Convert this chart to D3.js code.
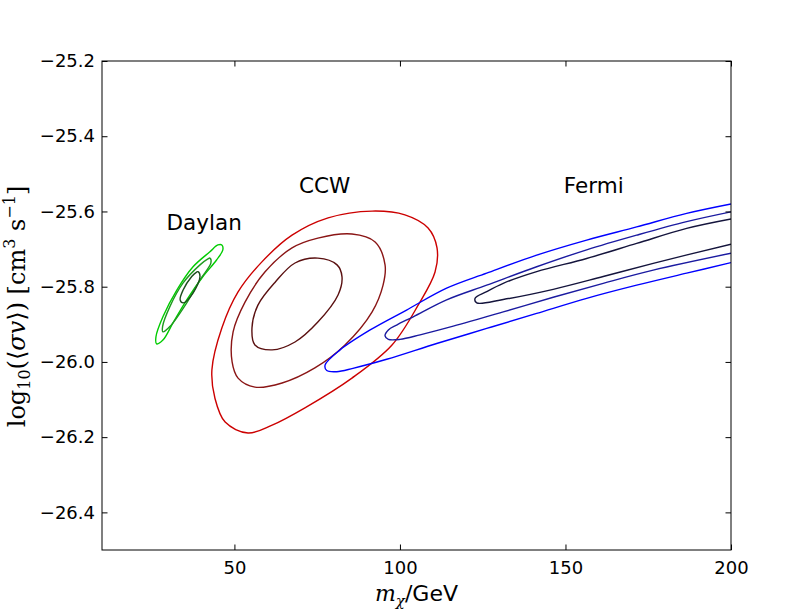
<!DOCTYPE html>
<html>
<head>
<meta charset="utf-8">
<script src="https://cdn.jsdelivr.net/npm/d3@7"></script>
<style>
  body { margin: 0; background: #fff; }
  svg { display: block; }
</style>
</head>
<body>
<div id="chart"></div>
<script>
// axis setup
var xTicks = [50, 100, 150, 200];
var yTicks = [-26.4, -26.2, -26.0, -25.8, -25.6, -25.4, -25.2];

// contour lines, [m_chi, log10 sigma v]
var daylanOuter = [[46.2,-25.689],[46.5,-25.702],[44.6,-25.729],[40.5,-25.773],[35.6,-25.835],[31.4,-25.897],[28.4,-25.942],[26.5,-25.952],[26.3,-25.933],[28.4,-25.880],[32.6,-25.809],[37.5,-25.747],[42.6,-25.707],[45.0,-25.689]];
var daylanMid = [[42.6,-25.724],[42.9,-25.737],[39.6,-25.782],[35.6,-25.843],[30.5,-25.906],[28.4,-25.920],[28.3,-25.906],[30.5,-25.853],[34.5,-25.790],[39.6,-25.742],[42.0,-25.726]];
var daylanInner = [[39.0,-25.760],[39.6,-25.773],[37.5,-25.817],[34.5,-25.843],[33.6,-25.835],[34.5,-25.809],[37.1,-25.773],[38.6,-25.761]];

var ccwOuter = [[91.6,-25.599],[101.5,-25.609],[108.5,-25.644],[111.2,-25.697],[110.6,-25.761],[105.5,-25.849],[97.6,-25.955],[85.5,-26.043],[71.3,-26.122],[61.4,-26.168],[54.1,-26.189],[47.2,-26.160],[44.1,-26.096],[43.2,-26.021],[46.2,-25.910],[51.1,-25.814],[58.3,-25.734],[67.4,-25.663],[78.3,-25.617]];
var ccwMid = [[85.5,-25.660],[92.5,-25.681],[95.5,-25.742],[94.9,-25.796],[91.6,-25.867],[83.4,-25.955],[74.3,-26.016],[64.4,-26.056],[56.2,-26.067],[51.1,-26.043],[49.3,-26.000],[49.6,-25.920],[53.2,-25.841],[59.2,-25.761],[67.4,-25.697],[75.2,-25.671]];
var ccwInner = [[75.2,-25.724],[81.0,-25.742],[82.5,-25.774],[81.3,-25.822],[75.2,-25.894],[68.3,-25.947],[61.4,-25.968],[56.2,-25.955],[55.3,-25.910],[57.1,-25.849],[62.3,-25.788],[68.3,-25.737]];

var fermiOuter = [[200,-25.580],[186.6,-25.605],[171.5,-25.641],[156.4,-25.676],[141.3,-25.716],[126.2,-25.764],[114.1,-25.804],[102.0,-25.862],[91.0,-25.915],[81.9,-25.968],[77.4,-26.008],[77.9,-26.023],[80.9,-26.026],[85.8,-26.017],[96.0,-25.993],[111.1,-25.951],[126.2,-25.911],[141.3,-25.871],[156.4,-25.831],[171.5,-25.796],[186.6,-25.764],[200,-25.736]];
var fermiMid = [[200,-25.601],[186.6,-25.627],[171.5,-25.663],[156.4,-25.702],[141.3,-25.747],[126.2,-25.796],[114.1,-25.835],[104.0,-25.880],[99.0,-25.902],[96.5,-25.915],[95.5,-25.931],[96.5,-25.940],[100.0,-25.940],[106.1,-25.928],[116.1,-25.905],[131.2,-25.867],[146.3,-25.828],[161.4,-25.791],[176.5,-25.756],[200,-25.711]];
var fermiInner = [[200,-25.620],[186.6,-25.645],[171.5,-25.685],[156.4,-25.725],[141.3,-25.760],[131.2,-25.791],[126.2,-25.813],[122.7,-25.831],[123.2,-25.843],[131.2,-25.834],[146.3,-25.807],[161.4,-25.773],[176.5,-25.738],[200,-25.687]];

// region labels
var labelNames = ["Daylan", "CCW", "Fermi"];
var labelX = [29.5, 69.5, 149.5];
var labelY = [-25.65, -25.55, -25.55];

var W = 812, H = 612;
var pLeft = 102, pRight = 731, pTop = 61, pBottom = 550;

var x = d3.scaleLinear().domain([10, 200]).range([pLeft, pRight]);
var y = d3.scaleLinear().domain([-26.5, -25.2]).range([pBottom, pTop]);

var svg = d3.select("#chart").append("svg")
    .attr("width", W)
    .attr("height", H);

svg.append("defs").append("clipPath")
    .attr("id", "plotclip")
    .append("rect")
    .attr("x", pLeft)
    .attr("y", pTop)
    .attr("width", pRight - pLeft)
    .attr("height", pBottom - pTop);

var closedLine = d3.line()
    .x(function(d){ return x(d[0]); })
    .y(function(d){ return y(d[1]); })
    .curve(d3.curveCatmullRomClosed.alpha(0.5));

var openLine = d3.line()
    .x(function(d){ return x(d[0]); })
    .y(function(d){ return y(d[1]); })
    .curve(d3.curveCatmullRom.alpha(0.5));

var contours = [
    {pts: daylanOuter, col: "#00cc00", closed: true},
    {pts: daylanMid, col: "#1f9a1f", closed: true},
    {pts: daylanInner, col: "#1d4d1d", closed: true},
    {pts: ccwOuter, col: "#cc0000", closed: true},
    {pts: ccwMid, col: "#8a1515", closed: true},
    {pts: ccwInner, col: "#5a1010", closed: true},
    {pts: fermiOuter, col: "#0000ff", closed: false},
    {pts: fermiMid, col: "#1a1aa0", closed: false},
    {pts: fermiInner, col: "#14143c", closed: false}
];

var plot = svg.append("g").attr("clip-path", "url(#plotclip)");

contours.forEach(function(c) {
    plot.append("path")
        .attr("d", c.closed ? closedLine(c.pts) : openLine(c.pts))
        .attr("fill", "none")
        .attr("stroke", c.col)
        .attr("stroke-width", 1.4)
        .attr("stroke-linejoin", "round");
});

for (var i = 0; i < labelNames.length; i++) {
    svg.append("text")
        .text(labelNames[i])
        .attr("x", x(labelX[i]))
        .attr("y", y(labelY[i]))
        .attr("font-family", "DejaVu Sans")
        .attr("font-size", 21.5)
        .attr("fill", "#000");
}

// ticks inside on all four sides
var fmt = d3.format(".1f");
var tickLen = 5.5;

var xAxisB = d3.axisBottom(x).tickValues(xTicks).tickSizeInner(-tickLen).tickSizeOuter(0).tickPadding(11);
var xAxisT = d3.axisTop(x).tickValues(xTicks).tickSizeInner(-tickLen).tickSizeOuter(0).tickFormat("");
var yAxisL = d3.axisLeft(y).tickValues(yTicks).tickSizeInner(-tickLen).tickSizeOuter(0).tickPadding(7).tickFormat(fmt);
var yAxisR = d3.axisRight(y).tickValues(yTicks).tickSizeInner(-tickLen).tickSizeOuter(0).tickFormat("");

svg.append("g").attr("transform", "translate(0," + pBottom + ")").call(xAxisB);
svg.append("g").attr("transform", "translate(0," + pTop + ")").call(xAxisT);
svg.append("g").attr("transform", "translate(" + pLeft + ",0)").call(yAxisL);
svg.append("g").attr("transform", "translate(" + pRight + ",0)").call(yAxisR);

svg.selectAll(".domain").remove();
svg.selectAll(".tick line").attr("stroke", "#000").attr("stroke-width", 1);
svg.selectAll(".tick text")
    .attr("font-family", "DejaVu Sans")
    .attr("font-size", 18)
    .attr("fill", "#000");

svg.append("rect")
    .attr("x", pLeft)
    .attr("y", pTop)
    .attr("width", pRight - pLeft)
    .attr("height", pBottom - pTop)
    .attr("fill", "none")
    .attr("stroke", "#000")
    .attr("stroke-width", 1);

// x label: m_chi /GeV
var xl = svg.append("text")
    .attr("x", (pLeft + pRight) / 2)
    .attr("y", 601)
    .attr("text-anchor", "middle")
    .attr("font-size", 22)
    .attr("fill", "#000");
xl.append("tspan").attr("font-family", "DejaVu Serif").attr("font-style", "italic").text("m");
xl.append("tspan").attr("font-family", "DejaVu Serif").attr("font-style", "italic")
    .attr("font-size", 15).attr("dy", 5).text("χ");
xl.append("tspan").attr("font-family", "DejaVu Sans").attr("dy", -5).text("/GeV");

// y label: log10(<sigma v>) [cm^3 s^-1]
var yl = svg.append("text")
    .attr("transform", "translate(25," + ((pTop + pBottom) / 2 + 1) + ") rotate(-90)")
    .attr("text-anchor", "middle")
    .attr("font-family", "DejaVu Serif")
    .attr("font-size", 24)
    .attr("fill", "#000");
yl.append("tspan").text("log");
yl.append("tspan").attr("font-size", 16).attr("dy", 5).text("10");
yl.append("tspan").attr("dy", -5).text("(⟨");
yl.append("tspan").attr("font-style", "italic").text("σv");
yl.append("tspan").text("⟩) [cm");
yl.append("tspan").attr("font-size", 16).attr("dy", -10).text("3");
yl.append("tspan").attr("dy", 10).text(" s");
yl.append("tspan").attr("font-size", 16).attr("dy", -10).text("−1");
yl.append("tspan").attr("dy", 10).text("]");
</script>
</body>
</html>
